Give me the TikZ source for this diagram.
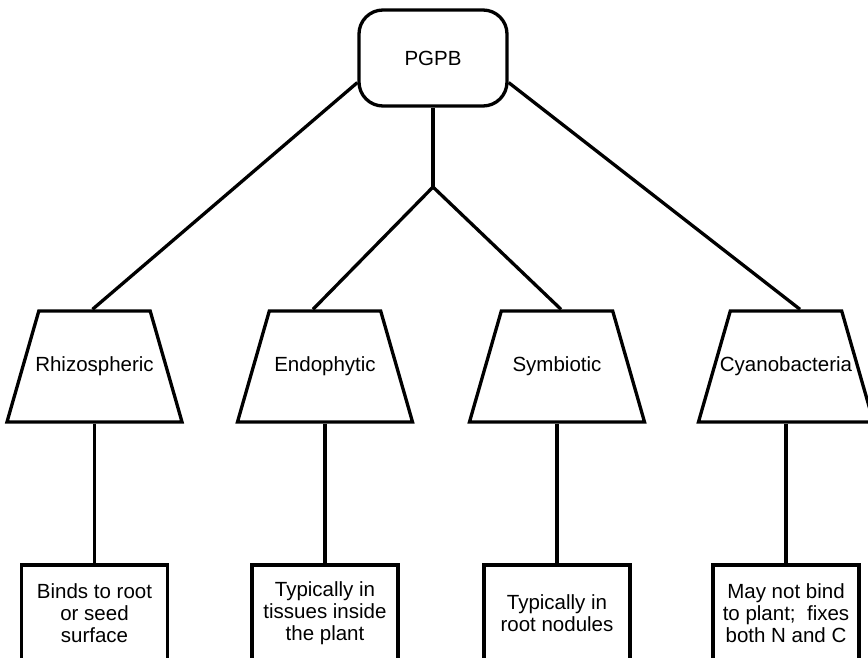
\documentclass[tikz,border=0pt]{standalone}
\usepackage{fontspec}
\setmainfont{Liberation Sans}
\usetikzlibrary{calc}
\usetikzlibrary{shapes.geometric}

\begin{document}
\begin{tikzpicture}[x=1pt, y=1pt, font=\fontsize{20.5}{22}\selectfont,
    top/.style={draw, line width=3.3pt, rounded corners=24pt, minimum width=148pt, minimum height=96pt},
    trap/.style={draw, line width=3.3pt, trapezium, trapezium left angle=74, trapezium right angle=74,
        inner xsep=55.7pt, inner ysep=55.5pt},
    leaf/.style={draw, line width=3.3pt, minimum width=146pt, minimum height=96pt, align=center},
    link/.style={line width=3.3pt}]
    \useasboundingbox (0, 0) rectangle (868, 657);
    \clip (0, 0) rectangle (868, 657);

    \node[top] (p) at (433, 599) {PGPB};
    \coordinate (m) at (433, 470);

    \node[trap, label={center:Rhizospheric}] (r) at (94.5, 290.5) {};
    \node[trap, label={center:Endophytic}] (e) at (325, 290.5) {};
    \node[trap, label={center:Symbiotic}] (s) at (557, 290.5) {};
    \node[trap, label={center:Cyanobacteria}] (c) at (786, 290.5) {};

    \node[leaf] (r1) at (94.5, 44) {Binds to root\\or seed\\surface};
    \node[leaf] (e1) at (325, 44) {Typically in\\tissues inside\\the plant};
    \node[leaf] (s1) at (557, 44) {Typically in\\root nodules};
    \node[leaf] (c1) at (786, 44) {May not bind\\to plant;~ fixes\\both N and C};

  \draw[link] (p.198) -- ([xshift=-2pt]r.north);
  \draw[link] (p.-18) -- ([xshift=14pt]c.north);
  \draw[link] (p.south) -- (m);
  \draw[link] (m) -- ([xshift=-12pt]e.north);
  \draw[link] (m) -- ([xshift=4pt]s.north);

  \draw[link] (r.south) -- (r1.north);
  \draw[link] (e.south) -- (e1.north);
  \draw[link] (s.south) -- (s1.north);
  \draw[link] (c.south) -- (c1.north);
\end{tikzpicture}
\end{document}
